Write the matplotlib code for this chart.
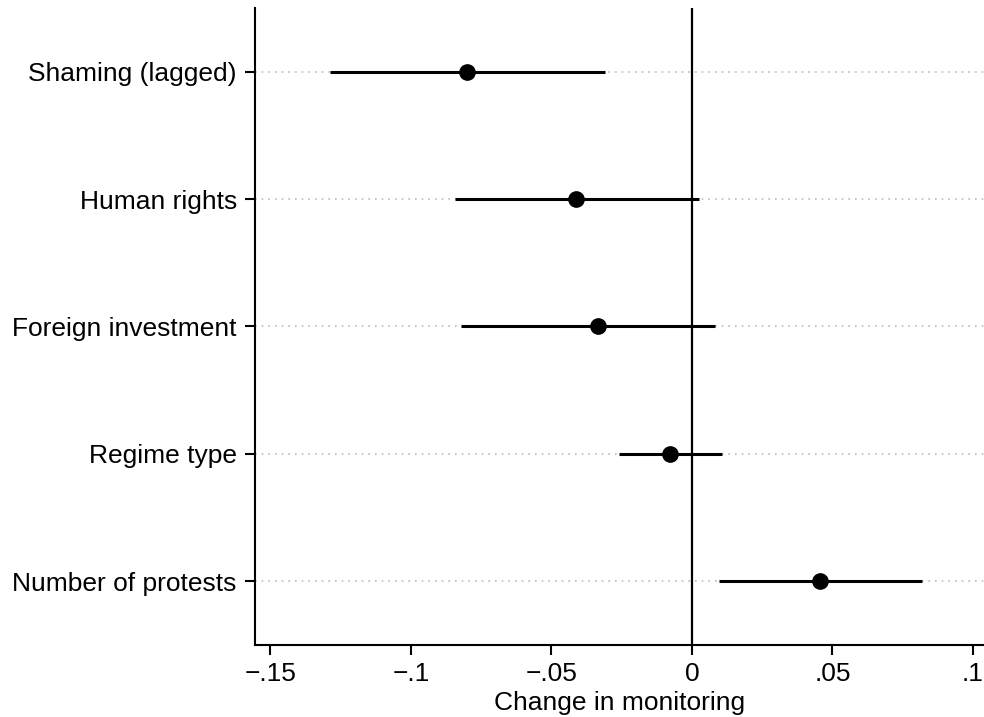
import matplotlib.pyplot as plt

labels = ['Shaming (lagged)', 'Human rights', 'Foreign investment',
          'Regime type', 'Number of protests']
coef = [-0.0801, -0.0413, -0.0335, -0.0078, 0.0456]
ci_low = [-0.1288, -0.0843, -0.0822, -0.0260, 0.0096]
ci_high = [-0.0310, 0.0025, 0.0082, 0.0107, 0.0819]
xticks = [-0.15, -0.1, -0.05, 0, 0.05, 0.1]
xticklabels = ['\u2212.15', '\u2212.1', '\u2212.05', '0', '.05', '.1']

plt.rcParams['font.family'] = ['Liberation Sans', 'DejaVu Sans']

fig = plt.figure(figsize=(9.84, 7.17), dpi=100)
ax = fig.add_axes([0.259, 0.1004, 0.741, 0.8886])

ypos = list(range(1, len(labels) + 1))

# dotted grid lines at each category
for y in ypos:
    ax.axhline(y, color='#bbbbbb', lw=1.2, ls=(0, (1, 3)), zorder=0)

ax.axvline(0, color='black', lw=1.6, zorder=1)

for y, lo, hi in zip(ypos, ci_low, ci_high):
    ax.plot([lo, hi], [y, y], color='black', lw=2.2, solid_capstyle='butt', zorder=2)
ax.plot(coef, ypos, 'o', color='black', markersize=11, zorder=3)

ax.set_ylim(5.5, 0.5)
ax.set_xlim(-0.1555, 0.1039)
ax.set_yticks(ypos)
ax.set_yticklabels(labels, fontsize=19)
ax.set_xticks(xticks)
ax.set_xticklabels(xticklabels, fontsize=19)
ax.set_xlabel('Change in monitoring', fontsize=19, labelpad=4)

ax.spines['top'].set_visible(False)
ax.spines['right'].set_visible(False)
ax.spines['left'].set_linewidth(1.5)
ax.spines['bottom'].set_linewidth(1.5)
ax.tick_params(axis='both', direction='out', length=7, width=1.5)
ax.tick_params(axis='y', pad=6)
ax.tick_params(axis='x', pad=5)

fig.savefig('out.png', dpi=100)
